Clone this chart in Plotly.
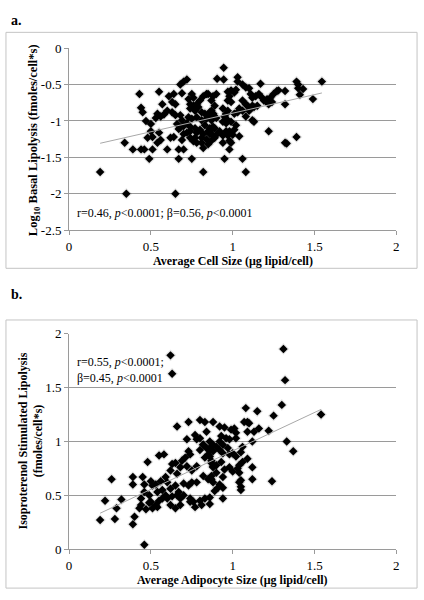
import numpy as np
import plotly.graph_objects as go

# ---------------- data ----------------
# Panel a: Average cell size (ug lipid/cell) vs Log10 basal lipolysis
a_x = [0.19, 0.35, 0.65, 0.82, 0.34, 0.39, 0.44, 0.46, 0.51, 0.49, 0.60, 0.67, 0.70, 0.67, 0.75,
       0.54, 0.48, 0.51, 0.50, 0.55, 0.47, 0.50, 0.45, 0.44, 0.43, 0.55, 0.61, 0.64, 0.69, 0.68,
       0.70, 0.72, 0.57, 0.63, 0.65, 0.54, 0.53, 0.56, 0.58, 0.60, 0.63, 0.65, 0.68, 0.69, 0.66,
       0.67, 0.68, 0.70, 0.72, 0.62, 0.64, 0.69, 0.74, 0.76, 0.78, 0.81, 0.56, 0.70, 0.72, 0.73,
       0.75, 0.76, 0.74, 0.76, 0.78, 0.80, 0.82, 0.84, 0.85, 0.74, 0.77, 0.79, 0.81, 0.83, 0.86,
       0.88, 0.73, 0.75, 0.78, 0.81, 0.84, 0.87, 0.74, 0.77, 0.80, 0.83, 0.86, 0.88, 0.74, 0.78,
       0.82, 0.85, 0.87, 0.77, 0.81, 0.84, 0.87, 0.82, 0.85,
       0.945, 0.905, 0.945, 1.03, 1.03, 1.06, 1.08, 1.10, 1.17, 1.02, 1.01, 0.99, 0.97, 0.98,
       0.97, 0.99, 0.90, 0.88, 0.89, 0.87, 1.11, 1.12, 1.14, 1.16, 1.18, 1.19, 1.21, 1.23, 1.25,
       1.27, 1.28, 1.32, 1.21, 1.24, 1.22, 1.06, 1.08, 1.09, 1.12, 1.15, 1.32, 1.39, 1.40, 1.40,
       1.43, 1.41, 1.545, 1.49, 1.04, 1.06, 1.03, 1.01, 1.10, 1.11, 1.13, 0.94, 0.97, 0.96, 0.87,
       0.88, 0.86, 0.90, 0.95, 0.97, 0.96, 0.99, 0.94, 1.08, 1.12, 1.13, 1.02, 0.89, 0.87, 0.92,
       0.96, 0.98, 1.01, 0.86, 0.90, 0.94, 0.97, 1.00, 0.98, 1.04, 0.89, 0.94, 0.99, 1.22, 1.32,
       1.33, 1.39, 0.98, 0.95, 1.06, 1.08]
a_y = [-1.70, -2.00, -2.00, -1.70, -1.30, -1.39, -1.39, -1.39, -1.39, -1.52, -1.39, -1.39, -1.39, -1.52, -1.52,
       -1.30, -1.23, -1.22, -1.14, -1.16, -1.00, -1.04, -0.88, -0.82, -0.63, -0.60, -0.66, -0.63, -0.62, -0.50,
       -0.46, -0.43, -0.77, -0.74, -0.77, -0.90, -0.96, -0.94, -0.91, -0.86, -0.88, -0.92, -0.92, -0.99, -1.04,
       -1.11, -1.09, -1.07, -1.03, -1.23, -1.22, -1.26, -1.23, -1.28, -1.30, -1.30, -1.26, -1.18, -1.16, -0.70,
       -0.63, -0.68, -0.77, -0.79, -0.77, -0.72, -0.66, -0.63, -0.63, -0.83, -0.86, -0.81, -0.88, -0.90, -0.88,
       -0.90, -0.95, -0.97, -0.95, -0.99, -0.97, -0.99, -1.08, -1.10, -1.12, -1.06, -1.10, -1.08, -1.14, -1.16,
       -1.18, -1.14, -1.18, -1.23, -1.23, -1.25, -1.27, -1.37, -1.32,
       -0.27, -0.42, -0.43, -0.40, -0.46, -0.50, -0.54, -0.55, -0.49, -0.57, -0.61, -0.58, -0.60, -0.66,
       -0.72, -0.74, -0.63, -0.66, -0.79, -0.72, -0.63, -0.68, -0.66, -0.63, -0.68, -0.72, -0.70, -0.68, -0.63,
       -0.59, -0.58, -0.59, -0.74, -0.74, -0.77, -0.72, -0.77, -0.79, -0.79, -0.79, -0.77, -0.46, -0.50, -0.55,
       -0.56, -0.64, -0.46, -0.70, -0.83, -0.86, -0.88, -0.90, -0.86, -0.83, -0.81, -0.83, -0.86, -0.90, -0.86,
       -0.90, -0.94, -0.96, -0.94, -0.99, -1.03, -1.01, -1.01, -0.94, -0.99, -1.01, -1.06, -1.10, -1.12, -1.14,
       -1.14, -1.14, -1.12, -1.18, -1.19, -1.20, -1.20, -1.19, -1.27, -1.21, -1.23, -1.30, -1.30, -1.14, -1.30,
       -1.31, -1.22, -1.39, -1.52, -1.52, -1.70]

# Panel b: Average adipocyte size vs isoproterenol stimulated lipolysis
b_x = [0.62, 0.63, 0.46, 0.19, 0.22, 0.28, 0.29, 0.32, 0.39, 0.40, 0.43, 0.44, 0.26, 0.39, 0.39,
       0.45, 0.46, 0.48, 0.55, 0.58, 0.66, 0.73, 0.80, 0.83, 0.84, 0.72, 0.73, 0.50, 0.51, 0.53,
       0.56, 0.57, 0.59, 0.46, 0.49, 0.50, 0.54, 0.55, 0.53, 0.57, 0.59, 0.44, 0.47, 0.49, 0.51,
       0.54, 0.62, 0.63, 0.65, 0.66, 0.68, 0.69, 0.71, 0.72, 0.74, 0.75, 0.78, 0.80, 0.82, 0.83,
       0.85, 0.86, 0.88, 0.87, 0.88, 0.60, 0.62, 0.65, 0.67, 0.70, 0.73, 0.75, 0.78, 0.82, 0.85,
       0.87, 0.60, 0.63, 0.66, 0.68, 0.70, 0.74, 0.76, 0.80, 0.83, 0.86, 0.62, 0.65, 0.68, 0.74,
       0.77, 0.81, 0.86, 0.77, 0.78, 0.80, 0.82, 0.84, 0.86,
       1.31, 1.32, 1.54, 1.30, 1.25, 1.33, 1.37, 1.24, 1.08, 1.15, 1.07, 1.09, 1.10, 1.16, 1.13,
       1.09, 1.22, 0.92, 0.95, 0.88, 0.99, 1.02, 1.01, 0.93, 0.96, 0.92, 0.94, 0.98, 1.02, 1.06,
       1.12, 1.05, 0.90, 0.92, 0.94, 0.97, 0.98, 0.88, 1.00, 1.02, 1.09, 1.06, 1.04, 1.03, 0.86,
       0.86, 0.87, 0.88, 0.90, 0.93, 0.95, 0.98, 1.12, 1.12, 1.04, 1.00, 1.05, 0.90, 0.94, 0.87,
       0.88, 1.04, 1.05, 1.05, 0.92, 0.94, 0.89, 0.91, 0.94]
b_y = [1.80, 1.63, 0.04, 0.27, 0.45, 0.28, 0.38, 0.46, 0.23, 0.30, 0.38, 0.47, 0.65, 0.67, 0.60,
       0.67, 0.60, 0.81, 0.87, 0.88, 1.14, 1.18, 1.20, 1.18, 1.09, 1.02, 0.91, 0.63, 0.59, 0.60,
       0.63, 0.55, 0.67, 0.53, 0.50, 0.44, 0.53, 0.45, 0.41, 0.47, 0.50, 0.41, 0.37, 0.43, 0.38,
       0.39, 0.73, 0.79, 0.80, 0.70, 0.76, 0.82, 0.85, 0.77, 0.88, 0.73, 0.77, 0.92, 0.97, 0.85,
       0.88, 0.92, 0.97, 0.80, 0.76, 0.62, 0.56, 0.59, 0.53, 0.61, 0.59, 0.62, 0.62, 0.68, 0.65,
       0.68, 0.47, 0.49, 0.50, 0.47, 0.50, 0.47, 0.44, 0.45, 0.47, 0.48, 0.41, 0.38, 0.41, 0.44,
       0.39, 0.41, 0.42, 1.06, 1.02, 1.03, 0.97, 0.94, 1.00,
       1.86, 1.57, 1.25, 1.34, 1.24, 1.00, 0.91, 0.63, 1.31, 1.28, 1.18, 1.18, 1.17, 1.12, 1.09,
       1.09, 1.10, 1.14, 1.13, 1.18, 1.11, 1.08, 1.12, 1.05, 1.03, 1.00, 0.97, 1.02, 1.03, 0.95,
       1.00, 0.90, 0.95, 0.92, 0.89, 0.94, 0.88, 0.91, 0.89, 0.86, 0.84, 0.81, 0.78, 0.75, 0.94,
       0.86, 0.82, 0.77, 0.78, 0.81, 0.74, 0.76, 0.76, 0.65, 0.71, 0.72, 0.64, 0.71, 0.67, 0.65,
       0.62, 0.62, 0.58, 0.55, 0.60, 0.57, 0.54, 0.57, 0.47]

x_ticks = [0, 0.5, 1, 1.5, 2]
x_ticktext = ["0", "0.5", "1", "1.5", "2"]
a_yticks = [0, -0.5, -1, -1.5, -2, -2.5]
a_yticktext = ["0", "-0.5", "-1", "-1.5", "-2", "-2.5"]
b_yticks = [0, 0.5, 1, 1.5, 2]
b_yticktext = ["0", "0.5", "1", "1.5", "2"]

# ---------------- figure ----------------
W, H = 424, 600
FONT = "Liberation Serif"
GRID = "#9a9a9a"
FS = 12


def py(p):
    return 1 - p / H


def px(p):
    return p / W


def trend(xs, ys):
    xs = np.asarray(xs)
    ys = np.asarray(ys)
    k, b = np.polyfit(xs, ys, 1)
    xx = np.array([xs.min(), xs.max()])
    return xx, k * xx + b


fig = go.Figure()

for xs, ys, xa, ya in [(a_x, a_y, "x", "y"), (b_x, b_y, "x2", "y2")]:
    tx, ty = trend(xs, ys)
    fig.add_trace(go.Scatter(x=xs, y=ys, mode="markers", xaxis=xa, yaxis=ya,
                             marker=dict(symbol="diamond", size=9, color="rgba(0,0,0,0.10)",
                                         line=dict(width=0)),
                             hoverinfo="skip", showlegend=False))
    fig.add_trace(go.Scatter(x=xs, y=ys, mode="markers", xaxis=xa, yaxis=ya,
                             marker=dict(symbol="diamond", size=6.5, color="black",
                                         line=dict(width=0)),
                             showlegend=False))
    fig.add_trace(go.Scatter(x=tx, y=ty, mode="lines", xaxis=xa, yaxis=ya,
                             line=dict(color="#a8a8a8", width=1), showlegend=False))

xdom = [px(67), px(399)]
common_x = dict(range=[0, 2], tickvals=x_ticks, ticktext=x_ticktext, showgrid=False,
                zeroline=False, showline=True, linecolor=GRID, linewidth=1,
                ticks="outside", ticklen=4, tickcolor=GRID, domain=xdom,
                tickfont=dict(family=FONT, size=FS + 1, color="black"))
common_y = dict(showgrid=True, gridcolor=GRID, gridwidth=1, zeroline=False,
                showline=True, linecolor=GRID, linewidth=1, ticks="outside",
                ticklen=4, tickcolor=GRID,
                tickfont=dict(family=FONT, size=FS + 1, color="black"))

fig.update_layout(
    width=W, height=H,
    margin=dict(l=0, r=0, t=0, b=0),
    paper_bgcolor="white", plot_bgcolor="white",
    font=dict(family=FONT, size=FS, color="black"),
    xaxis=dict(anchor="y", **common_x),
    yaxis=dict(anchor="x", range=[-2.5, 0.002], tickvals=a_yticks, ticktext=a_yticktext,
               domain=[py(229), py(42)], **common_y),
    xaxis2=dict(anchor="y2", **common_x),
    yaxis2=dict(anchor="x2", range=[0, 2.002], tickvals=b_yticks, ticktext=b_yticktext,
                domain=[py(556), py(335)], **common_y),
    shapes=[
        dict(type="rect", xref="paper", yref="paper", x0=px(3), x1=px(420),
             y0=py(268), y1=py(26), line=dict(color="#c4c4c4", width=1), layer="below"),
        dict(type="rect", xref="paper", yref="paper", x0=px(3), x1=px(420),
             y0=py(596), y1=py(321), line=dict(color="#c4c4c4", width=1), layer="below"),
    ],
)

ann = []
# panel letters
ann.append(dict(text="<b>a.</b>", x=px(6), y=py(14), xanchor="left", yanchor="middle",
                font=dict(family=FONT, size=14, color="black")))
ann.append(dict(text="<b>b.</b>", x=px(6), y=py(295), xanchor="left", yanchor="middle",
                font=dict(family=FONT, size=14, color="black")))
# axis titles
ann.append(dict(text="<b>Average Cell Size (μg lipid/cell)</b>", x=px(233), y=py(260),
                xanchor="center", yanchor="middle", font=dict(family=FONT, size=FS, color="black")))
ann.append(dict(text="<b>Average Adipocyte Size (μg lipid/cell)</b>", x=px(233), y=py(588),
                xanchor="center", yanchor="middle", font=dict(family=FONT, size=FS, color="black")))
ann.append(dict(text="<b>Log<sub>10</sub> Basal Lipolysis (fmoles/cell*s)</b>", x=px(31), y=py(137),
                textangle=-90, xanchor="center", yanchor="middle",
                font=dict(family=FONT, size=12.5, color="black")))
ann.append(dict(text="<b>Isoproterenol Stimulated Lipolysis<br>(fmoles/cell*s)</b>", x=px(28), y=py(445),
                textangle=-90, xanchor="center", yanchor="middle",
                font=dict(family=FONT, size=FS, color="black")))
# statistics
ann.append(dict(text="r=0.46, <i>p</i>&lt;0.0001; β=0.56, <i>p</i>&lt;0.0001", x=px(73), y=py(211),
                xanchor="left", yanchor="middle", font=dict(family=FONT, size=FS, color="black")))
ann.append(dict(text="r=0.55, <i>p</i>&lt;0.0001;<br>β=0.45, <i>p</i>&lt;0.0001", x=px(73), y=py(372),
                xanchor="left", yanchor="middle", align="left",
                font=dict(family=FONT, size=FS, color="black")))
for a in ann:
    a.update(xref="paper", yref="paper", showarrow=False)
fig.update_layout(annotations=ann)

fig.write_html("out.html", config={"displayModeBar": False},
               post_script="document.body.style.margin='0';document.body.style.overflow='hidden';")
